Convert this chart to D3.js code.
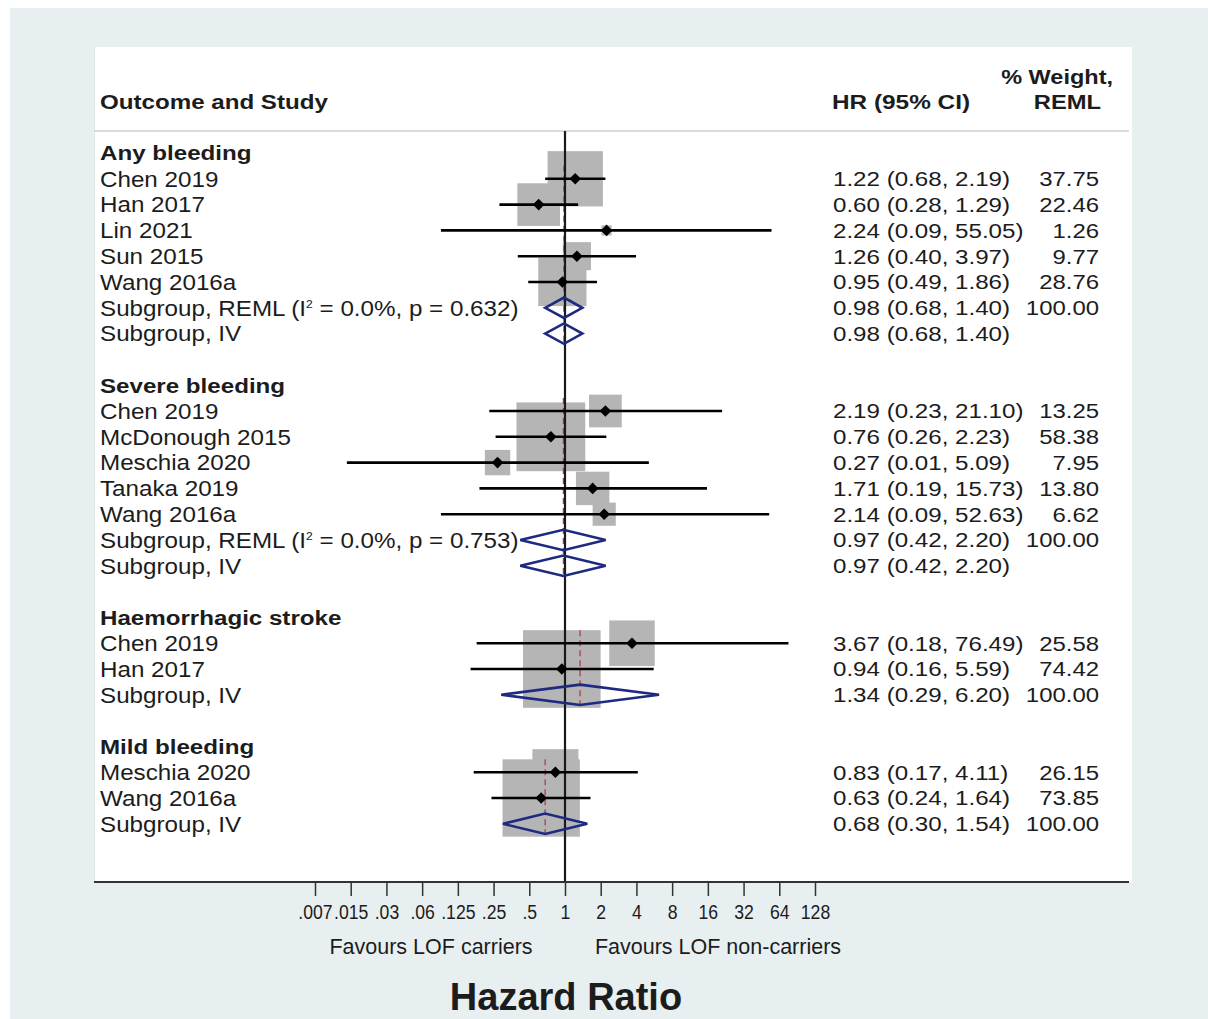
<!DOCTYPE html>
<html><head><meta charset="utf-8">
<script src="https://cdn.jsdelivr.net/npm/d3@7"></script>
<style>
body{margin:0;background:#fff}
svg{display:block}
text{font-family:"Liberation Sans",Arial,Helvetica,sans-serif;fill:#1c1c1c}
</style></head><body>
<svg id="c" width="1208" height="1019"></svg>
<script>
// ---- data ----
const groupNames = ["Any bleeding", "Severe bleeding", "Haemorrhagic stroke", "Mild bleeding"];
const rowGroup = [0,0,0,0,0,0,0, 1,1,1,1,1,1,1, 2,2,2, 3,3,3];
const rowLabel = ["Chen 2019","Han 2017","Lin 2021","Sun 2015","Wang 2016a","Subgroup, REML","Subgroup, IV",
                  "Chen 2019","McDonough 2015","Meschia 2020","Tanaka 2019","Wang 2016a","Subgroup, REML","Subgroup, IV",
                  "Chen 2019","Han 2017","Subgroup, IV",
                  "Meschia 2020","Wang 2016a","Subgroup, IV"];
const rowType = ["study","study","study","study","study","reml","iv",
                 "study","study","study","study","study","reml","iv",
                 "study","study","iv",
                 "study","study","iv"];
const hr = [1.22,0.60,2.24,1.26,0.95,0.98,0.98, 2.19,0.76,0.27,1.71,2.14,0.97,0.97, 3.67,0.94,1.34, 0.83,0.63,0.68];
const lo = [0.68,0.28,0.09,0.40,0.49,0.68,0.68, 0.23,0.26,0.0145,0.19,0.09,0.42,0.42, 0.18,0.16,0.29, 0.17,0.24,0.30];
const hi = [2.19,1.29,55.05,3.97,1.86,1.40,1.40, 21.10,2.23,5.09,15.73,52.63,2.20,2.20, 76.49,5.59,6.20, 4.11,1.64,1.54];
const weight = [37.75,22.46,1.26,9.77,28.76,100.00,null, 13.25,58.38,7.95,13.80,6.62,100.00,null, 25.58,74.42,100.00, 26.15,73.85,100.00];
const hetI2 = ["0.0%", "0.0%", null, null];
const hetP = ["0.632", "0.753", null, null];
const tickValues = [2**-7,2**-6,2**-5,2**-4,2**-3,2**-2,2**-1,1,2,4,8,16,32,64,128];
const tickLabels = [".007",".015",".03",".06",".125",".25",".5","1","2","4","8","16","32","64","128"];

// ---- layout ----
const svg = d3.select("#c");
const x = d3.scaleLog().base(2).domain([2**-7, 2**7]).range([315, 815]);
const f2 = d3.format(".2f");
const rowStep = 25.8, row0 = 153;
const navy = "#1e2a80", boxFill = "#b5b5b5", refRed = "#a8404a";

const lines = [];
let li = 0;
groupNames.forEach((g, gi) => {
  if (gi > 0) li++;
  lines.push({kind:"header", text:g, li: li++});
  rowGroup.forEach((rg, i) => { if (rg === gi) lines.push({kind:"row", i, li: li++}); });
});
const yOf = l => row0 + l * rowStep;

// background
svg.append("rect").attr("x",10).attr("y",8).attr("width",1198).attr("height",1011).attr("fill","#e8eff1");
svg.append("rect").attr("x",94).attr("y",47).attr("width",1038).attr("height",835).attr("fill","#ffffff");
svg.append("line").attr("x1",94.5).attr("x2",94.5).attr("y1",47).attr("y2",882).attr("stroke","#e4e4e4").attr("stroke-width",1);

function stext(xp, yp, txt, opts){
  return svg.append("text").attr("transform",`translate(${xp},${yp}) scale(${opts.sx||1},1)`)
    .attr("text-anchor", opts.anchor||"start").attr("dy","0.35em")
    .style("font-size",(opts.size||21)+"px").style("font-weight",opts.bold?"bold":"normal").text(txt);
}
stext(100, 102, "Outcome and Study", {bold:true, size:21, sx:1.15});
stext(832, 102, "HR (95% CI)", {bold:true, size:21, sx:1.16});
stext(1113, 77, "% Weight,", {bold:true, size:21, sx:1.12, anchor:"end"});
stext(1101, 102, "REML", {bold:true, size:21, sx:1.13, anchor:"end"});
svg.append("line").attr("x1",94).attr("x2",1129).attr("y1",131).attr("y2",131).attr("stroke","#cfcfcf").attr("stroke-width",1.5);

const rows = lines.filter(d => d.kind === "row");
const studyRows = rows.filter(d => rowType[d.i] === "study");

// boxes
svg.append("g").selectAll("rect").data(studyRows).join("rect")
  .attr("x", d => x(hr[d.i]) - 4.5*Math.sqrt(weight[d.i]))
  .attr("y", d => yOf(d.li) - 4.5*Math.sqrt(weight[d.i]))
  .attr("width", d => 9*Math.sqrt(weight[d.i]))
  .attr("height", d => 9*Math.sqrt(weight[d.i]))
  .attr("fill", boxFill);

// pooled reference (red dashed) lines per group
groupNames.forEach((g, gi) => {
  const gr = rows.filter(d => rowGroup[d.i] === gi);
  const firstStudy = gr.find(d => rowType[d.i] === "study");
  const last = gr[gr.length-1];
  svg.append("line").attr("x1", x(hr[last.i])).attr("x2", x(hr[last.i]))
    .attr("y1", yOf(firstStudy.li) - 13).attr("y2", yOf(last.li) + 10.5)
    .attr("stroke", refRed).attr("stroke-width",1.3).attr("stroke-dasharray","6,4");
});

// null line
svg.append("line").attr("x1", x(1)).attr("x2", x(1)).attr("y1",131).attr("y2",882).attr("stroke","#1a1a1a").attr("stroke-width",2.2);

// CI lines
svg.append("g").selectAll("line").data(studyRows).join("line")
  .attr("x1", d => x(lo[d.i])).attr("x2", d => x(hi[d.i]))
  .attr("y1", d => yOf(d.li)).attr("y2", d => yOf(d.li))
  .attr("stroke","#000").attr("stroke-width",2.6);

// point markers
svg.append("g").selectAll("path").data(studyRows).join("path")
  .attr("d", d => { const cx = x(hr[d.i]), cy = yOf(d.li), s = 5.8;
     return `M${cx-s},${cy}L${cx},${cy-s}L${cx+s},${cy}L${cx},${cy+s}Z`; })
  .attr("fill","#000");

// pooled diamonds
svg.append("g").selectAll("path").data(rows.filter(d => rowType[d.i] !== "study")).join("path")
  .attr("d", d => { const cy = yOf(d.li), h = 10.2;
     return `M${x(lo[d.i])},${cy}L${x(hr[d.i])},${cy-h}L${x(hi[d.i])},${cy}L${x(hr[d.i])},${cy+h}Z`; })
  .attr("fill","none").attr("stroke",navy).attr("stroke-width",2.6).attr("stroke-linejoin","miter");

// text columns
lines.forEach(d => {
  const yy = yOf(d.li);
  if (d.kind === "header") {
    stext(100, yy, d.text, {bold:true, size:21, sx:1.15});
  } else {
    const t = stext(100, yy, "", {size:22, sx:1.1});
    if (rowType[d.i] === "reml") {
      const g = rowGroup[d.i];
      t.append("tspan").text(rowLabel[d.i] + " (I");
      t.append("tspan").attr("dy","-8").style("font-size","11px").text("2");
      t.append("tspan").attr("dy","8").text(` = ${hetI2[g]}, p = ${hetP[g]})`);
    } else {
      t.text(rowLabel[d.i]);
    }
    stext(833, yy, `${f2(hr[d.i])} (${f2(lo[d.i])}, ${f2(hi[d.i])})`, {size:21, sx:1.15});
    if (weight[d.i] != null) stext(1099, yy, f2(weight[d.i]), {size:21, sx:1.14, anchor:"end"});
  }
});

// axis
svg.append("line").attr("x1",94).attr("x2",1129).attr("y1",882).attr("y2",882).attr("stroke","#333").attr("stroke-width",2.2);
const ax = svg.append("g").attr("transform","translate(0,882)")
  .call(d3.axisBottom(x).tickValues(tickValues).tickFormat((d,i) => tickLabels[i]).tickSize(14).tickPadding(8));
ax.select(".domain").remove();
ax.selectAll(".tick line").attr("stroke","#333").attr("stroke-width",1.5);
ax.selectAll(".tick text").style("font-size","21px").attr("transform","scale(0.84,1)")
  .style("font-family",'"Liberation Sans",Arial,sans-serif').attr("fill","#1c1c1c");

stext(431, 946, "Favours LOF carriers", {size:21.5, anchor:"middle"});
stext(718, 946, "Favours LOF non-carriers", {size:21.5, anchor:"middle"});
stext(566, 997, "Hazard Ratio", {size:38, bold:true, anchor:"middle"});
</script></body></html>
